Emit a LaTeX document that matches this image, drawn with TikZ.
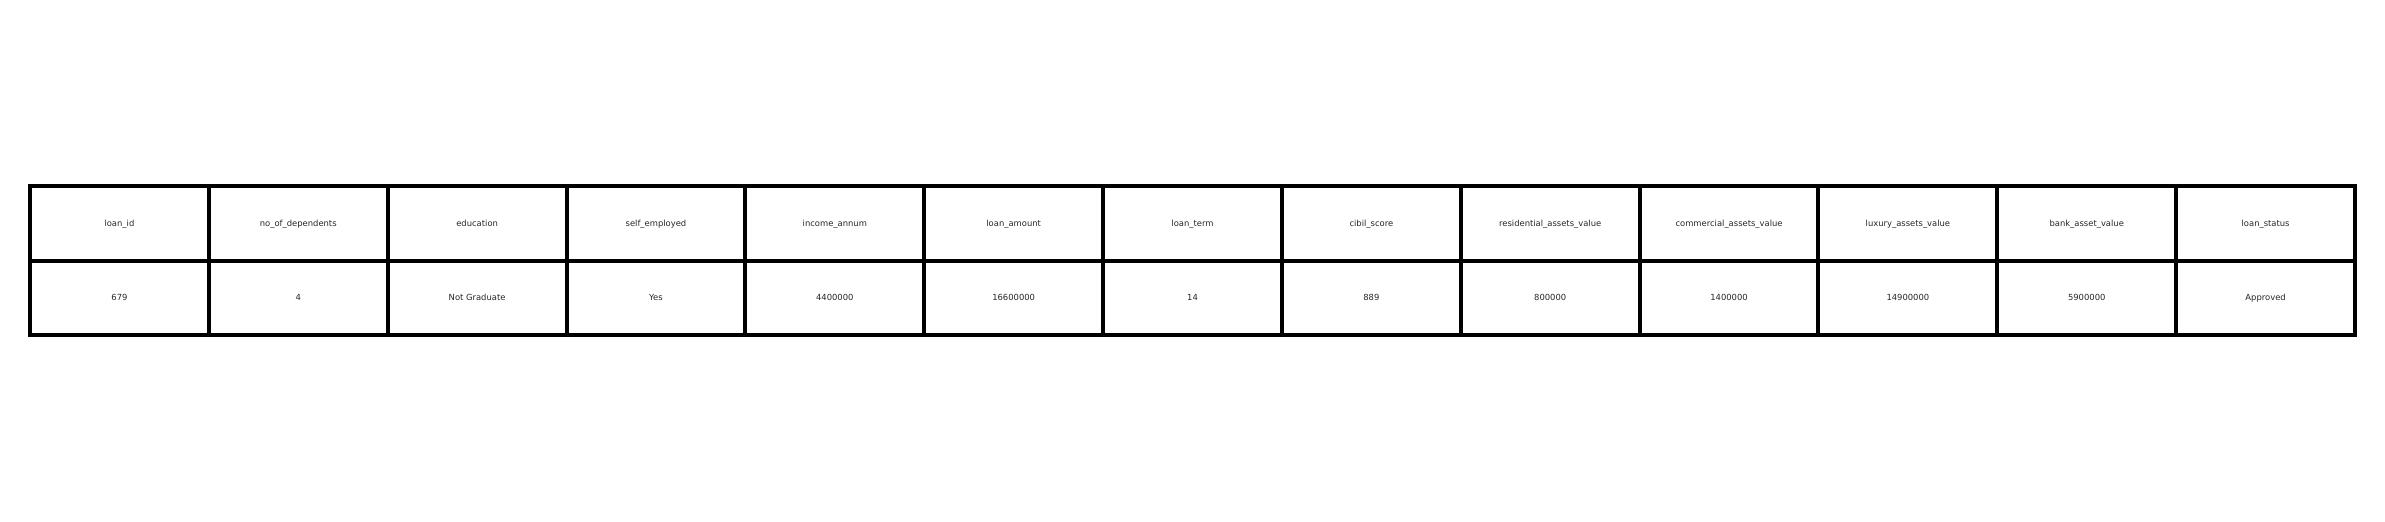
\documentclass[tikz,border=0pt]{standalone}
\usepackage{fontspec}
\setmainfont{DejaVu Sans}
\begin{document}
\begin{tikzpicture}[x=0.5pt,y=-0.5pt,
  cellbox/.style={draw=black,line width=2pt,rectangle,inner sep=0pt,outer sep=0pt,
    minimum width=89.42pt,minimum height=37.25pt,text height=3.4pt,text depth=0.6pt,
    font=\fontsize{4.2}{5}\selectfont,text=black!85}]
\useasboundingbox (0,0) rectangle (2385,522);
\def\cw{178.846}
\foreach \i/\h/\v in {0/loan\_id/679,1/no\_of\_dependents/4,2/education/Not Graduate,
  3/self\_employed/Yes,4/income\_annum/4400000,5/loan\_amount/16600000,6/loan\_term/14,
  7/cibil\_score/889,8/residential\_assets\_value/800000,9/commercial\_assets\_value/1400000,
  10/luxury\_assets\_value/14900000,11/bank\_asset\_value/5900000,12/loan\_status/Approved}{
  \node[cellbox] (h\i) at ({30+\cw*(\i+0.5)},223.5) {\h};
  \node[cellbox] (v\i) at ({30+\cw*(\i+0.5)},298) {\v};
}
\end{tikzpicture}
\end{document}
